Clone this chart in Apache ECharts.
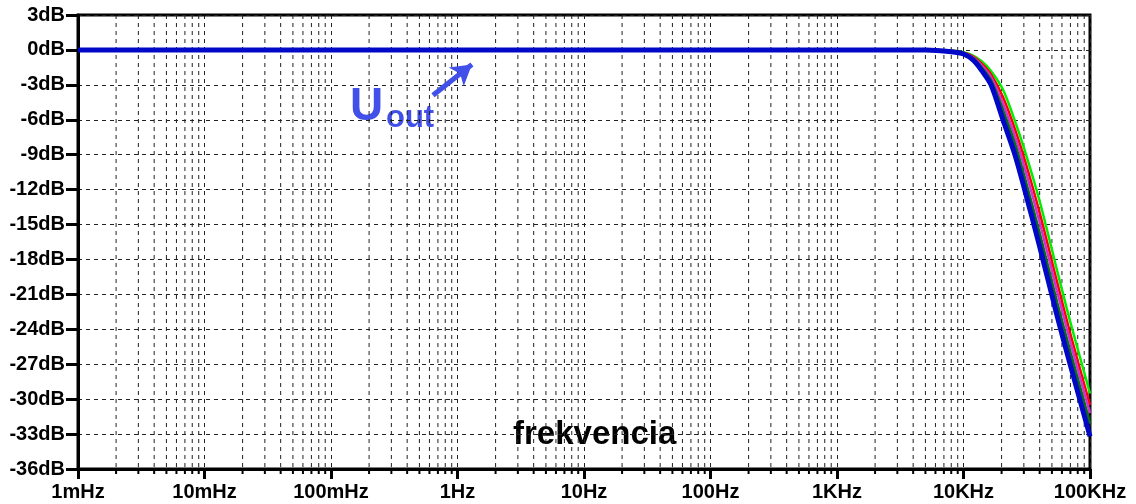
<!DOCTYPE html>
<html>
<head>
<meta charset="utf-8">
<script src="https://cdn.jsdelivr.net/npm/echarts@6/dist/echarts.min.js"></script>
<style>
  html, body { margin: 0; padding: 0; background: #fff; }
  #chart { width: 1136px; height: 504px; }
</style>
</head>
<body>
<div id="chart"></div>
<script>
// decades on the frequency axis and their labels
var decades = [0.001, 0.01, 0.1, 1, 10, 100, 1000, 10000, 100000];
var tickLabels = ['1mHz', '10mHz', '100mHz', '1Hz', '10Hz', '100Hz', '1KHz', '10KHz', '100KHz'];

// frequencies (Hz) where the traces were read
var freqs = [0.001, 5000, 8000, 10000, 12000, 14000, 16500, 20500, 25500, 30600, 40000, 54800, 70000, 100000];

// gain in dB for each trace
var blueDb      = [0, 0, -0.15, -0.35, -0.9, -1.8, -3.0, -6.0, -9.0, -12.1, -16.9, -22.8, -27.1, -33.2];
var darkGreenDb = [0, 0, -0.12, -0.30, -0.78, -1.56, -2.64, -5.2, -8.1, -11.1, -15.8, -21.7, -26.0, -32.1];
var magentaDb   = [0, 0, -0.10, -0.27, -0.68, -1.36, -2.34, -4.6, -7.4, -10.2, -14.8, -20.7, -25.1, -31.2];
var redDb       = [0, 0, -0.08, -0.24, -0.60, -1.20, -2.10, -4.05, -6.8, -9.5, -14.0, -19.9, -24.4, -30.5];
var greenDb     = [0, 0, -0.05, -0.20, -0.50, -1.00, -1.80, -3.4, -6.1, -8.7, -13.0, -18.9, -23.4, -29.5];

// minor grid positions: 2..9 x each decade
var minorFreqs = [];
for (var i = 0; i < decades.length - 1; i++) {
  for (var m = 2; m <= 9; m++) minorFreqs.push(decades[i] * m);
}

function pairs(ys) {
  return freqs.map(function (f, k) { return [f, ys[k]]; });
}

function trace(name, color, width, ys) {
  return {
    name: name,
    type: 'line',
    data: pairs(ys),
    showSymbol: false,
    smooth: 0.3,
    lineStyle: { color: color, width: width },
    itemStyle: { color: color },
    z: 5
  };
}

var myChart = echarts.init(document.getElementById('chart'));

var option = {
  animation: false,
  textStyle: { fontFamily: 'Liberation Sans' },
  grid: {
    left: 78, right: 46, top: 15, bottom: 35,
    show: true, borderColor: '#000', borderWidth: 3
  },
  xAxis: {
    type: 'log',
    logBase: 10,
    min: 0.001,
    max: 100000,
    splitNumber: 8,
    axisLine: { onZero: false, lineStyle: { color: '#000', width: 3 } },
    axisTick: { length: 10, lineStyle: { color: '#000', width: 3 } },
    axisLabel: {
      color: '#000', fontWeight: 'bold', fontSize: 20, margin: 13,
      formatter: function (v) {
        return tickLabels[Math.round(Math.log10(v)) + 3];
      }
    },
    splitLine: { show: true, lineStyle: { color: '#222', width: 1, type: [4, 4] } }
  },
  yAxis: {
    type: 'value',
    min: -36,
    max: 3,
    interval: 3,
    axisLine: { show: true, lineStyle: { color: '#000', width: 3 } },
    axisTick: { show: true, length: 12, lineStyle: { color: '#000', width: 3 } },
    axisLabel: {
      color: '#000', fontWeight: 'bold', fontSize: 20, margin: 13,
      formatter: '{value}dB'
    },
    splitLine: { show: true, lineStyle: { color: '#222', width: 1, type: [4, 4] } }
  },
  graphic: [
    {
      type: 'text', left: 350, top: 84,
      style: { text: 'U', fill: '#4050e8', font: 'bold 46px "Liberation Sans"' }
    },
    {
      type: 'text', left: 386, top: 103,
      style: { text: 'out', fill: '#4050e8', font: 'bold 31px "Liberation Sans"' }
    },
    {
      type: 'text', left: 513, top: 418,
      style: { text: 'frekvencia', fill: '#000', font: 'bold 33px "Liberation Sans"' }
    }
  ],
  series: [
    {
      name: 'minor',
      type: 'custom',
      clip: false,
      silent: true,
      z: 1,
      data: minorFreqs.map(function (f) { return [f, 0]; }),
      encode: { x: 0, y: 1 },
      renderItem: function (params, api) {
        var f = api.value(0);
        var top = api.coord([f, 3]);
        var bot = api.coord([f, -36]);
        return {
          type: 'group',
          children: [
            {
              type: 'line',
              shape: { x1: top[0], y1: top[1], x2: bot[0], y2: bot[1] },
              style: { stroke: '#222', lineWidth: 1, lineDash: [4, 4] }
            },
            {
              type: 'line',
              shape: { x1: bot[0], y1: bot[1], x2: bot[0], y2: bot[1] + 5 },
              style: { stroke: '#000', lineWidth: 2 }
            }
          ]
        };
      }
    },
    trace('green', '#00ee00', 2.5, greenDb),
    trace('red', '#ff0000', 2.5, redDb),
    trace('magenta', '#d030d0', 2.5, magentaDb),
    trace('darkgreen', '#0a6a20', 3, darkGreenDb),
    trace('blue', '#0008c8', 5, blueDb),
    {
      name: 'arrow',
      type: 'line',
      data: [],
      z: 6,
      markLine: {
        silent: true,
        symbol: ['none', 'arrow'],
        symbolSize: [18, 20],
        label: { show: false },
        lineStyle: { color: '#4050e8', width: 5, type: 'solid' },
        data: [[{ coord: [0.64, -3.9] }, { coord: [1.3, -1.25] }]]
      }
    }
  ]
};

myChart.setOption(option);
</script>
</body>
</html>
